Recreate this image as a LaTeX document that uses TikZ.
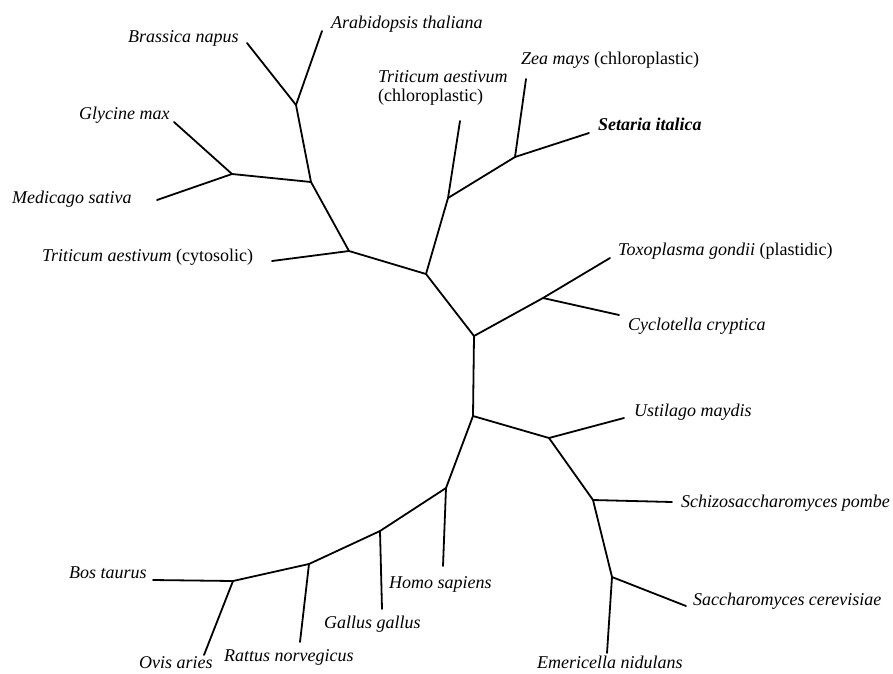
\documentclass[tikz,border=0pt]{standalone}
\usepackage{fontspec}
\setmainfont{Liberation Serif}
\usepackage{tikz}

\begin{document}
\begin{tikzpicture}[x=1pt,y=-1pt]
		\tikzstyle{branch}=[draw=black, line width=1.8pt, line cap=round, line join=round]
		\tikzstyle{taxon}=[anchor=base west, inner sep=0pt, font=\fontsize{18}{21}\selectfont]

		\useasboundingbox (0,0) rectangle (893,673);

		% inner points of the tree
		\coordinate (r1) at (474,336);
		\coordinate (r2) at (473,416);
		\coordinate (pl) at (426,274);
		\coordinate (cy) at (349,251);
		\coordinate (di) at (311,182);
		\coordinate (cr) at (296,105);
		\coordinate (fa) at (232,174);
		\coordinate (ch) at (448,198);
		\coordinate (gr) at (515,157);
		\coordinate (ap) at (543,298);
		\coordinate (fu) at (549,438);
		\coordinate (as) at (593,500);
		\coordinate (sa) at (612,577);
		\coordinate (ho) at (446,488);
		\coordinate (ga) at (380,531);
		\coordinate (ra) at (309,564);
		\coordinate (bo) at (233,581);

		% leaf ends
		\coordinate (bn) at (247,43);
		\coordinate (at) at (322,31);
		\coordinate (gm) at (174,122);
		\coordinate (ms) at (157,200);
		\coordinate (tc) at (272,261);
		\coordinate (tp) at (460,121);
		\coordinate (zm) at (526,79);
		\coordinate (si) at (589,133);
		\coordinate (tg) at (610,258);
		\coordinate (cc) at (619,315);
		\coordinate (um) at (624,418);
		\coordinate (sp) at (672,502);
		\coordinate (sc) at (686,606);
		\coordinate (en) at (607,653);
		\coordinate (hs) at (443,566);
		\coordinate (gg) at (382,609);
		\coordinate (rn) at (300,642);
		\coordinate (bt) at (153,580);
		\coordinate (oa) at (204,655);

		% branches
		\draw [branch] (r1) -- (r2);
		\draw [branch] (r1) -- (pl) -- (cy) -- (di) -- (cr);
		\draw [branch] (cr) -- (bn);
		\draw [branch] (cr) -- (at);
		\draw [branch] (di) -- (fa) -- (gm);
		\draw [branch] (fa) -- (ms);
		\draw [branch] (cy) -- (tc);
		\draw [branch] (pl) -- (ch) -- (tp);
		\draw [branch] (ch) -- (gr) -- (zm);
		\draw [branch] (gr) -- (si);
		\draw [branch] (r1) -- (ap) -- (tg);
		\draw [branch] (ap) -- (cc);
		\draw [branch] (r2) -- (fu) -- (um);
		\draw [branch] (fu) -- (as) -- (sp);
		\draw [branch] (as) -- (sa) -- (sc);
		\draw [branch] (sa) -- (en);
		\draw [branch] (r2) -- (ho) -- (hs);
		\draw [branch] (ho) -- (ga) -- (gg);
		\draw [branch] (ga) -- (ra) -- (rn);
		\draw [branch] (ra) -- (bo) -- (bt);
		\draw [branch] (bo) -- (oa);

		% taxa
		\node [taxon] (lbn) at (128,42) {\textit{Brassica napus}};
		\node [taxon] (lat) at (331,28) {\textit{Arabidopsis thaliana}};
		\node [taxon] (lgm) at (79,119) {\textit{Glycine max}};
		\node [taxon] (lms) at (12,203) {\textit{Medicago sativa}};
		\node [taxon] (ltc) at (42,261) {\textit{Triticum aestivum} (cytosolic)};
		\node [taxon] (ltp) at (378,82) {\textit{Triticum aestivum}};
		\node [taxon] (ltp2) at (378,101) {(chloroplastic)};
		\node [taxon] (lzm) at (521,64) {\textit{Zea mays} (chloroplastic)};
		\node [taxon] (lsi) at (598,130) {\textbf{\textit{Setaria italica}}};
		\node [taxon] (ltg) at (618,255) {\textit{Toxoplasma gondii} (plastidic)};
		\node [taxon] (lcc) at (628,330) {\textit{Cyclotella cryptica}};
		\node [taxon] (lum) at (634,416) {\textit{Ustilago maydis}};
		\node [taxon] (lsp) at (681,507) {\textit{Schizosaccharomyces pombe}};
		\node [taxon] (lsc) at (693,605) {\textit{Saccharomyces cerevisiae}};
		\node [taxon] (len) at (537,668) {\textit{Emericella nidulans}};
		\node [taxon] (lhs) at (389,588) {\textit{Homo sapiens}};
		\node [taxon] (lgg) at (324,628) {\textit{Gallus gallus}};
		\node [taxon] (lrn) at (224,661) {\textit{Rattus norvegicus}};
		\node [taxon] (lbt) at (69,578) {\textit{Bos taurus}};
		\node [taxon] (loa) at (139,668) {\textit{Ovis aries}};
	\end{tikzpicture}
\end{document}
